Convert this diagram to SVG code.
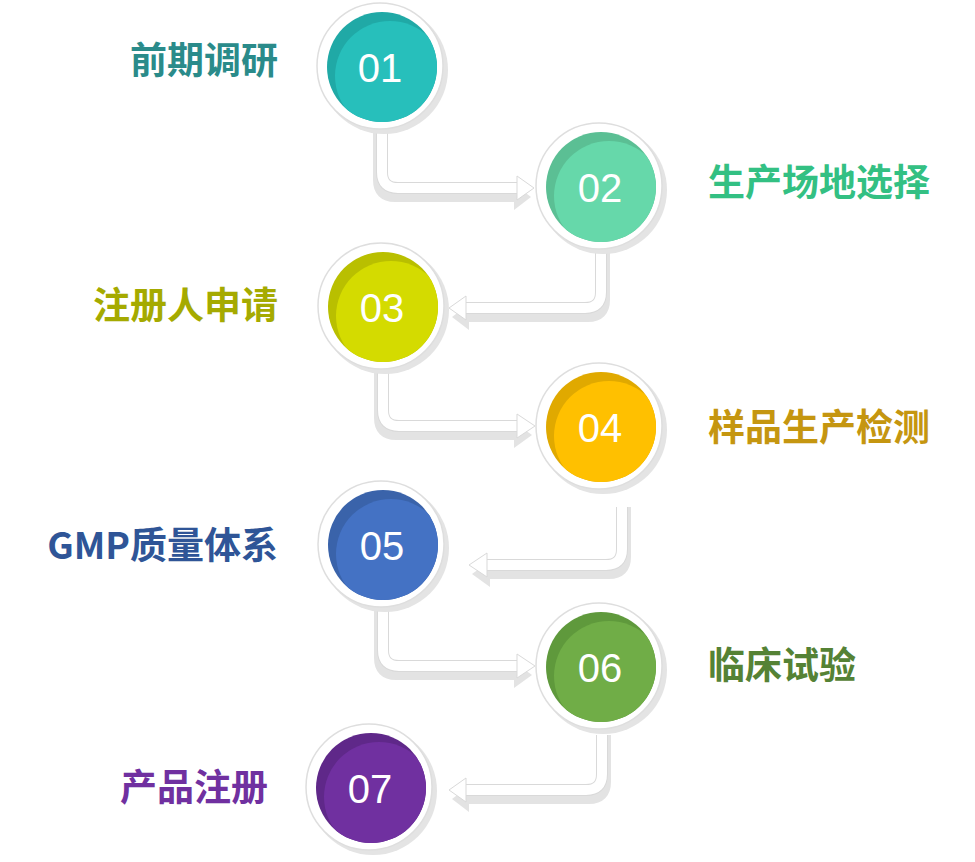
<svg xmlns="http://www.w3.org/2000/svg" width="975" height="862" viewBox="0 0 975 862">
<style>
.sh{fill:none;stroke:#e3e3e3;stroke-width:12}
.ol{fill:none;stroke:#d9d9d9;stroke-width:12}
.band{fill:none;stroke:#ffffff;stroke-width:10}
.hsh{fill:#e3e3e3}
.head{fill:#ffffff;stroke:#d9d9d9;stroke-width:1}
.rsh{fill:#e4e4e4}
.ring{fill:#ffffff;stroke:#dedede;stroke-width:1.5}
.num{font-family:"Liberation Sans",Arial,sans-serif;font-size:40px;fill:#ffffff;text-anchor:middle}
.lab{font-family:"Noto Sans CJK SC","Noto Sans",sans-serif;font-size:37px;font-weight:bold}
.r{text-anchor:end}
</style>
<defs>
<clipPath id="c1"><circle cx="382" cy="67" r="55"/></clipPath>
<clipPath id="c2"><circle cx="601" cy="187" r="55"/></clipPath>
<clipPath id="c3"><circle cx="383" cy="307" r="55"/></clipPath>
<clipPath id="c4"><circle cx="601" cy="427" r="55"/></clipPath>
<clipPath id="c5"><circle cx="383" cy="545" r="55"/></clipPath>
<clipPath id="c6"><circle cx="601" cy="667" r="55"/></clipPath>
<clipPath id="c7"><circle cx="371" cy="788" r="55"/></clipPath>
</defs>
<rect width="975" height="862" fill="#ffffff"/>

<g id="connectors">
  <g id="c-01-02">
    <path class="sh" d="M379,128 V180 Q379,196 395,196 H518"/>
    <polygon class="hsh" points="514,184 531,197 514,210"/>
    <path class="ol" d="M382,128 V172 Q382,188 398,188 H518"/>
    <path class="band" d="M382,128 V172 Q382,188 398,188 H518"/>
    <polygon class="head" points="517,176 534,188 517,200"/>
  </g>
  <g id="c-02-03">
    <path class="sh" d="M604,248 V300 Q604,316 588,316 H466"/>
    <polygon class="hsh" points="469,304 452,317 469,330"/>
    <path class="ol" d="M601,248 V292 Q601,308 585,308 H466"/>
    <path class="band" d="M601,248 V292 Q601,308 585,308 H466"/>
    <polygon class="head" points="466,296 449,308 466,320"/>
  </g>
  <g id="c-03-04">
    <path class="sh" d="M380,368 V418 Q380,434 396,434 H518"/>
    <polygon class="hsh" points="514,422 532,435 514,448"/>
    <path class="ol" d="M383,368 V410 Q383,426 399,426 H518"/>
    <path class="band" d="M383,368 V410 Q383,426 399,426 H518"/>
    <polygon class="head" points="517,414 535,426 517,438"/>
  </g>
  <g id="c-04-05">
    <path class="sh" d="M625,507 V557 Q625,573 609,573 H487"/>
    <polygon class="hsh" points="490,561 472,574 490,587"/>
    <path class="ol" d="M622,507 V549 Q622,565 606,565 H487"/>
    <path class="band" d="M622,507 V549 Q622,565 606,565 H487"/>
    <polygon class="head" points="487,553 469,565 487,577"/>
  </g>
  <g id="c-05-06">
    <path class="sh" d="M380,608 V658 Q380,674 396,674 H518"/>
    <polygon class="hsh" points="514,662 532,675 514,688"/>
    <path class="ol" d="M383,608 V650 Q383,666 399,666 H518"/>
    <path class="band" d="M383,608 V650 Q383,666 399,666 H518"/>
    <polygon class="head" points="517,654 535,666 517,678"/>
  </g>
  <g id="c-06-07">
    <path class="sh" d="M605,735 V782 Q605,798 589,798 H466"/>
    <polygon class="hsh" points="469,786 452,799 469,812"/>
    <path class="ol" d="M602,735 V774 Q602,790 586,790 H466"/>
    <path class="band" d="M602,735 V774 Q602,790 586,790 H466"/>
    <polygon class="head" points="466,778 449,790 466,802"/>
  </g>
</g>

<g id="n01">
  <circle class="rsh" cx="384" cy="70" r="64"/>
  <circle class="ring" cx="380" cy="66" r="63"/>
  <circle cx="382" cy="67" r="55" fill="#20a9a6"/>
  <circle cx="390" cy="76" r="55" fill="#27bfbb" clip-path="url(#c1)"/>
  <text class="num" x="380" y="82">01</text>
  <text class="lab r" x="278" y="74" fill="#2a8b8a">前期调研</text>
</g>
<g id="n02">
  <circle class="rsh" cx="603" cy="190" r="64"/>
  <circle class="ring" cx="599" cy="186" r="63"/>
  <circle cx="601" cy="187" r="55" fill="#5bbf94"/>
  <circle cx="609" cy="196" r="55" fill="#66d8aa" clip-path="url(#c2)"/>
  <text class="num" x="600" y="202">02</text>
  <text class="lab" x="708" y="196" fill="#33c083">生产场地选择</text>
</g>
<g id="n03">
  <circle class="rsh" cx="385" cy="310" r="64"/>
  <circle class="ring" cx="381" cy="306" r="63"/>
  <circle cx="383" cy="307" r="55" fill="#b9bf00"/>
  <circle cx="391" cy="316" r="55" fill="#d4db00" clip-path="url(#c3)"/>
  <text class="num" x="382" y="322">03</text>
  <text class="lab r" x="278" y="319" fill="#a5aa00">注册人申请</text>
</g>
<g id="n04">
  <circle class="rsh" cx="603" cy="430" r="64"/>
  <circle class="ring" cx="599" cy="426" r="63"/>
  <circle cx="601" cy="427" r="55" fill="#e0a900"/>
  <circle cx="609" cy="436" r="55" fill="#ffc000" clip-path="url(#c4)"/>
  <text class="num" x="600" y="442">04</text>
  <text class="lab" x="708" y="441" fill="#c59610">样品生产检测</text>
</g>
<g id="n05">
  <circle class="rsh" cx="385" cy="548" r="64"/>
  <circle class="ring" cx="381" cy="544" r="63"/>
  <circle cx="383" cy="545" r="55" fill="#3a63aa"/>
  <circle cx="391" cy="554" r="55" fill="#4472c4" clip-path="url(#c5)"/>
  <text class="num" x="382" y="560">05</text>
  <text class="lab r" x="278" y="559" fill="#2f5597">GMP质量体系</text>
</g>
<g id="n06">
  <circle class="rsh" cx="603" cy="670" r="64"/>
  <circle class="ring" cx="599" cy="666" r="63"/>
  <circle cx="601" cy="667" r="55" fill="#5f993c"/>
  <circle cx="609" cy="676" r="55" fill="#70ad47" clip-path="url(#c6)"/>
  <text class="num" x="600" y="682">06</text>
  <text class="lab" x="708" y="679" fill="#558235">临床试验</text>
</g>
<g id="n07">
  <circle class="rsh" cx="373" cy="791" r="64"/>
  <circle class="ring" cx="369" cy="787" r="63"/>
  <circle cx="371" cy="788" r="55" fill="#5f2889"/>
  <circle cx="379" cy="797" r="55" fill="#7030a0" clip-path="url(#c7)"/>
  <text class="num" x="370" y="803">07</text>
  <text class="lab r" x="268" y="801" fill="#7030a0">产品注册</text>
</g>
</svg>
